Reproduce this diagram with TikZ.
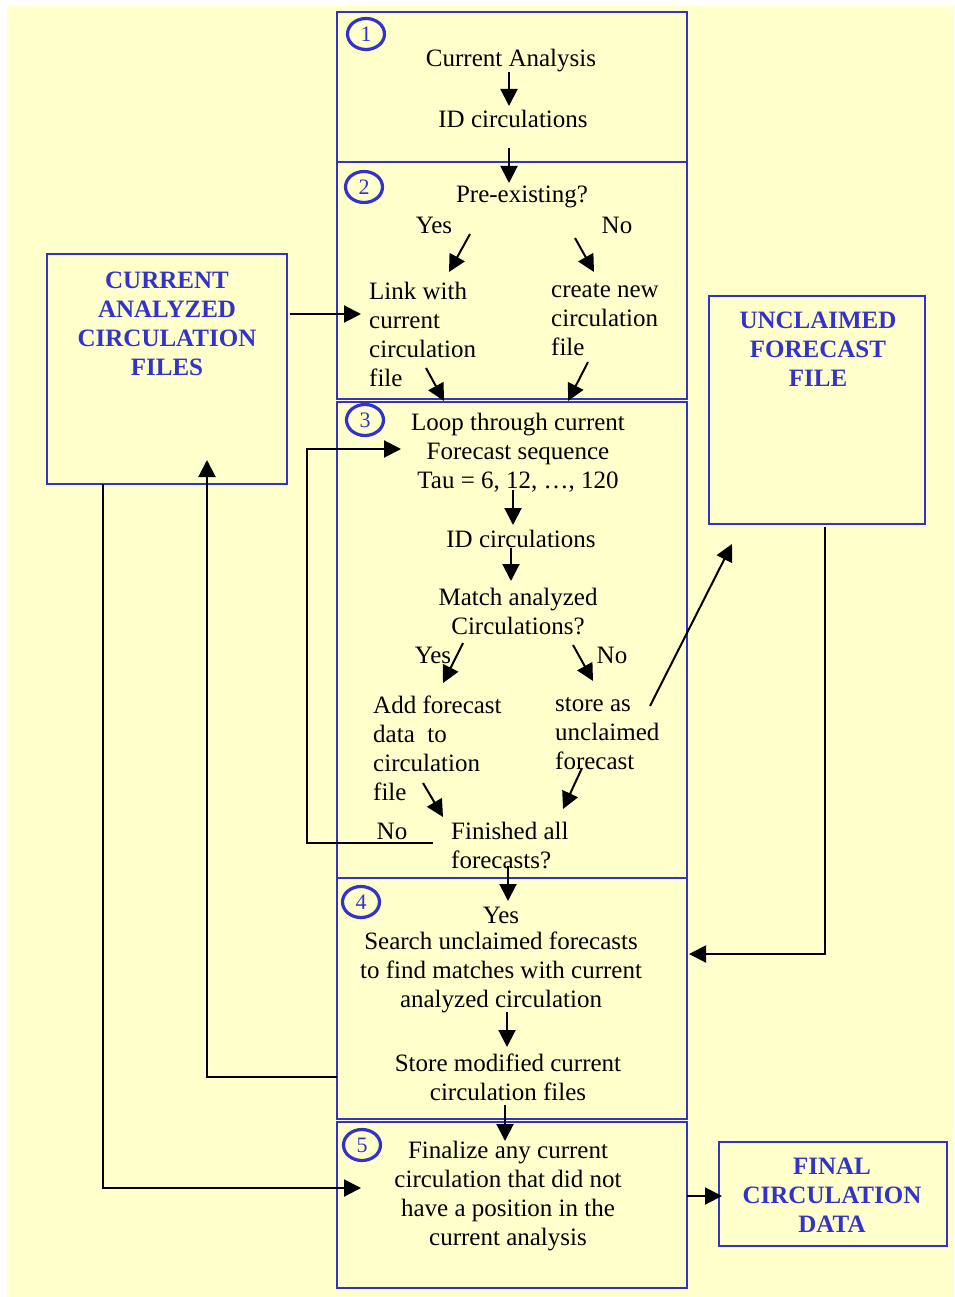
\documentclass[tikz,border=0pt]{standalone}
\usepackage{fontspec}
\setmainfont{Liberation Serif}
\usetikzlibrary{arrows.meta,shapes.geometric}
\definecolor{bgyellow}{HTML}{FFFFCC}
\definecolor{boxblue}{HTML}{3333CC}
\begin{document}
\begin{tikzpicture}[x=1pt,y=-1pt,
  txt/.style={inner sep=0pt,yshift=-3pt,font=\fontsize{25}{29}\selectfont,text=black},
  lbl/.style={inner sep=0pt,font=\fontsize{25}{29}\selectfont\bfseries,text=boxblue,align=center},
  frame/.style={draw=boxblue,line width=2.2pt},
  numc/.style={draw=boxblue,line width=3.2pt,ellipse,minimum width=37pt,minimum height=31pt,inner sep=0pt,
    font=\fontsize{22}{22}\selectfont,text=boxblue},
  arr/.style={line width=2pt,-{Triangle[length=17pt,width=17pt]}}]
\useasboundingbox (0,0) rectangle (954,1297);
\fill[white] (0,0) rectangle (954,1297);
\fill[bgyellow] (7,6) rectangle (954,1297);

% main column boxes
\draw[frame] (337,12) rectangle (687,162);
\draw[frame] (337,162) rectangle (687,399);
\draw[frame] (337,402) rectangle (687,878);
\draw[frame] (337,878) rectangle (687,1119);
\draw[frame] (337,1122) rectangle (687,1288);

% side boxes
\draw[frame] (47,254) rectangle (287,484);
\node[lbl] (cacf) at (167,324) {CURRENT\\ANALYZED\\CIRCULATION\\FILES};
\draw[frame] (709,296) rectangle (925,524);
\node[lbl] (ucf) at (818,349) {UNCLAIMED\\FORECAST\\FILE};
\draw[frame] (719,1142) rectangle (947,1246);
\node[lbl] (fcd) at (832,1195) {FINAL\\CIRCULATION\\DATA};

% numbered circles
\node[numc] (c1) at (366,34) {\raisebox{-2pt}{1}};
\node[numc] (c2) at (364,187) {\raisebox{-2pt}{2}};
\node[numc] (c3) at (365,420) {\raisebox{-2pt}{3}};
\node[numc] (c4) at (361,902) {\raisebox{-2pt}{4}};
\node[numc] (c5) at (362,1145) {\raisebox{-2pt}{5}};

% texts
\node[txt] (t1a) at (511,58) {Current Analysis};
\node[txt] (t1b) at (513,116) {ID circulations};
\node[txt] (t2a) at (522,194) {Pre-existing?};
\node[txt] (yes2) at (434,222) {Yes};
\node[txt] (no2) at (617,222) {No};
\node[txt,anchor=west,align=left] (link) at (369,331) {Link with\\current\\circulation\\file};
\node[txt,anchor=west,align=left] (create) at (551,317) {create new\\circulation\\file};
\node[txt,align=center] (loop) at (518,450) {Loop through current\\Forecast sequence\\Tau = 6, 12, \dots, 120};
\node[txt] (t3b) at (521,536) {ID circulations};
\node[txt,align=center] (match) at (518,608) {Match analyzed\\Circulations?};
\node[txt] (yes3) at (433,652) {Yes};
\node[txt] (no3) at (612,652) {No};
\node[txt,anchor=west,align=left] (add) at (373,745) {Add forecast\\data\ \ to\\circulation\\file};
\node[txt,anchor=west,align=left] (store) at (555,731) {store as\\unclaimed\\forecast};
\node[txt] (no3b) at (392,828) {No};
\node[txt,anchor=west,align=left] (fin) at (451,842) {Finished all\\forecasts?};
\node[txt] (yes4) at (501,912) {Yes};
\node[txt,align=center] (search) at (501,969) {Search unclaimed forecasts\\to find matches with current\\analyzed circulation};
\node[txt,align=center] (smod) at (508,1074) {Store modified current\\circulation files};
\node[txt,align=center] (final) at (508,1193) {Finalize any current\\circulation that did not\\have a position in the\\current analysis};

% connector end points
\coordinate (p1s) at (509,72);   \coordinate (p1e) at (509,106);
\coordinate (p2s) at (509,148);  \coordinate (p2e) at (509,183);
\coordinate (p3s) at (470,234);  \coordinate (p3e) at (449,272);
\coordinate (p4s) at (575,238);  \coordinate (p4e) at (594,272);
\coordinate (p5s) at (426,368);  \coordinate (p5e) at (444,401);
\coordinate (p6s) at (588,362);  \coordinate (p6e) at (568,401);
\coordinate (p7s) at (290,314);  \coordinate (p7e) at (361,314);
\coordinate (p8s) at (513,490);  \coordinate (p8e) at (513,525);
\coordinate (p9s) at (511,548);  \coordinate (p9e) at (511,581);
\coordinate (p10s) at (463,643); \coordinate (p10e) at (443,683);
\coordinate (p11s) at (573,645); \coordinate (p11e) at (593,681);
\coordinate (p12s) at (650,706); \coordinate (p12e) at (732,544);
\coordinate (p13s) at (423,783); \coordinate (p13e) at (443,817);
\coordinate (p14s) at (582,768); \coordinate (p14e) at (563,809);
\coordinate (p15s) at (433,843); \coordinate (p15a) at (307,843); \coordinate (p15b) at (307,449); \coordinate (p15e) at (401,449);
\coordinate (p16s) at (508,866); \coordinate (p16e) at (508,901);
\coordinate (p17s) at (507,1012); \coordinate (p17e) at (507,1047);
\coordinate (p18s) at (505,1105); \coordinate (p18e) at (505,1141);
\coordinate (p19s) at (825,527); \coordinate (p19a) at (825,954); \coordinate (p19e) at (689,954);
\coordinate (p20s) at (337,1077); \coordinate (p20a) at (207,1077); \coordinate (p20e) at (207,460);
\coordinate (p21s) at (103,484); \coordinate (p21a) at (103,1188); \coordinate (p21e) at (361,1188);
\coordinate (p22s) at (687,1196); \coordinate (p22e) at (722,1196);

\draw[arr] (p1s) -- (p1e);
\draw[arr] (p2s) -- (p2e);
\draw[arr] (p3s) -- (p3e);
\draw[arr] (p4s) -- (p4e);
\draw[arr] (p5s) -- (p5e);
\draw[arr] (p6s) -- (p6e);
\draw[arr] (p7s) -- (p7e);
\draw[arr] (p8s) -- (p8e);
\draw[arr] (p9s) -- (p9e);
\draw[arr] (p10s) -- (p10e);
\draw[arr] (p11s) -- (p11e);
\draw[arr] (p12s) -- (p12e);
\draw[arr] (p13s) -- (p13e);
\draw[arr] (p14s) -- (p14e);
\draw[arr] (p15s) -- (p15a) -- (p15b) -- (p15e);
\draw[arr] (p16s) -- (p16e);
\draw[arr] (p17s) -- (p17e);
\draw[arr] (p18s) -- (p18e);
\draw[arr] (p19s) -- (p19a) -- (p19e);
\draw[arr] (p20s) -- (p20a) -- (p20e);
\draw[arr] (p21s) -- (p21a) -- (p21e);
\draw[arr] (p22s) -- (p22e);
\end{tikzpicture}
\end{document}
